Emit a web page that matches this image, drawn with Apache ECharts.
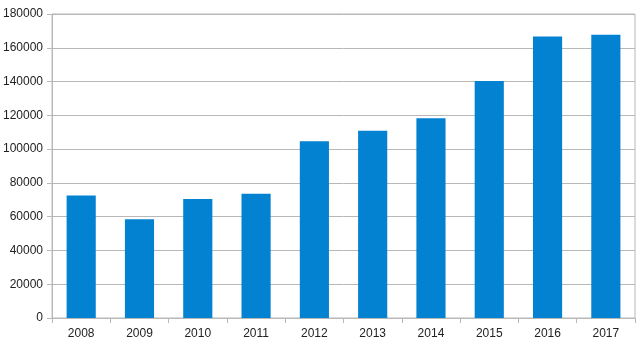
<!DOCTYPE html>
<html>
<head>
<meta charset="utf-8">
<script src="https://cdn.jsdelivr.net/npm/echarts@6/dist/echarts.min.js"></script>
<style>
    html, body { margin: 0; padding: 0; background: #fff; }
    #chart { width: 640px; height: 351px; }
</style>
</head>
<body>
<div id="chart"></div>
<script>
const years = ['2008', '2009', '2010', '2011', '2012', '2013', '2014', '2015', '2016', '2017'];
const values = [72600, 58500, 70400, 73500, 104600, 110800, 118200, 140400, 166700, 167700];

const chart = echarts.init(document.getElementById('chart'));
chart.setOption({
    animation: false,
    grid: {
        left: 52,
        right: 5,
        top: 14,
        bottom: 33,
        show: true,
        borderColor: '#b8b8b8',
        borderWidth: 1
    },
    xAxis: {
        type: 'category',
        data: years,
        axisLine: { lineStyle: { color: '#b8b8b8' } },
        axisTick: { show: true, length: 5, lineStyle: { color: '#b8b8b8' } },
        axisLabel: {
            color: '#222',
            fontFamily: 'Liberation Sans',
            fontSize: 12,
            margin: 10
        }
    },
    yAxis: {
        type: 'value',
        min: 0,
        max: 180000,
        interval: 20000,
        axisLine: { show: true, lineStyle: { color: '#b8b8b8' } },
        axisTick: { show: true, length: 5, lineStyle: { color: '#b8b8b8' } },
        splitLine: { lineStyle: { color: '#b8b8b8' } },
        axisLabel: {
            color: '#222',
            fontFamily: 'Liberation Sans',
            fontSize: 12,
            margin: 9,
            formatter: (v) => String(v)
        }
    },
    series: [{
        type: 'bar',
        data: values,
        barWidth: '50%',
        itemStyle: { color: '#0382d1' }
    }]
});
</script>
</body>
</html>
